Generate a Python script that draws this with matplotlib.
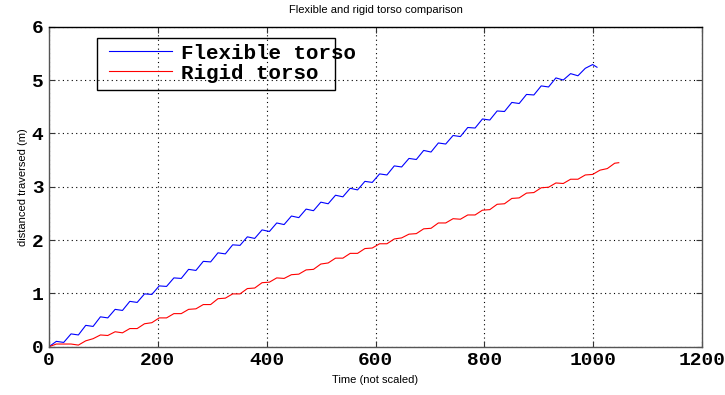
import numpy as np
import matplotlib.pyplot as plt
from matplotlib.patches import Rectangle

# samples taken every 13.5 time steps (about half a gait cycle)
step = 13.5

flexible = [0.00, 0.10, 0.08, 0.24, 0.22, 0.40, 0.38, 0.56, 0.54, 0.70,
            0.68, 0.85, 0.83, 0.99, 0.98, 1.14, 1.13, 1.29, 1.28, 1.45,
            1.43, 1.60, 1.59, 1.76, 1.74, 1.91, 1.90, 2.06, 2.03, 2.19,
            2.16, 2.32, 2.29, 2.45, 2.42, 2.58, 2.55, 2.71, 2.68, 2.84,
            2.81, 2.97, 2.94, 3.10, 3.08, 3.24, 3.22, 3.39, 3.37, 3.53,
            3.51, 3.68, 3.65, 3.82, 3.80, 3.96, 3.94, 4.11, 4.10, 4.27,
            4.25, 4.42, 4.41, 4.58, 4.56, 4.73, 4.72, 4.89, 4.87, 5.04,
            5.00, 5.12, 5.08, 5.22, 5.29]
flexible_end = (1007, 5.24)

rigid = [0.00, 0.05, 0.05, 0.05, 0.03, 0.11, 0.15, 0.22, 0.21, 0.28,
         0.26, 0.34, 0.34, 0.43, 0.45, 0.54, 0.54, 0.62, 0.62, 0.70,
         0.71, 0.79, 0.79, 0.90, 0.91, 0.99, 0.99, 1.09, 1.10, 1.20,
         1.21, 1.29, 1.28, 1.35, 1.36, 1.44, 1.45, 1.55, 1.57, 1.66,
         1.66, 1.75, 1.75, 1.84, 1.85, 1.93, 1.93, 2.02, 2.04, 2.11,
         2.12, 2.21, 2.22, 2.32, 2.32, 2.40, 2.39, 2.47, 2.47, 2.56,
         2.57, 2.67, 2.68, 2.78, 2.79, 2.88, 2.89, 2.98, 2.99, 3.07,
         3.06, 3.14, 3.14, 3.22, 3.23, 3.31, 3.34, 3.44]
rigid_end = (1047, 3.45)

labels = ["Flexible torso", "Rigid torso"]

t_flex = np.append(np.arange(len(flexible)) * step, flexible_end[0])
d_flex = np.append(flexible, flexible_end[1])
t_rigid = np.append(np.arange(len(rigid)) * step, rigid_end[0])
d_rigid = np.append(rigid, rigid_end[1])

fig = plt.figure(figsize=(7.25, 3.95), dpi=100)
ax = fig.add_axes([0.0676, 0.1223, 0.9007, 0.8101])

l1, = ax.plot(t_flex, d_flex, color="#0000ff", lw=0.8)
l2, = ax.plot(t_rigid, d_rigid, color="#ff0000", lw=0.8)

ax.set_xlim(0, 1200)
ax.set_ylim(0, 6)
ax.set_xticks(range(0, 1201, 200))
ax.set_yticks(range(0, 7))

tick_font = {"family": "Liberation Mono", "weight": "bold", "size": 14}
ax.set_xticklabels([str(v) for v in range(0, 1201, 200)], fontdict=tick_font)
ax.set_yticklabels([str(v) for v in range(0, 7)], fontdict=tick_font)
ax.tick_params(direction="in", length=4, width=0.8, top=True, right=True,
               color="#333333", pad=4)

ax.grid(True, color="black", linestyle=(0, (1, 3)), linewidth=0.8)
for s in ax.spines.values():
    s.set_color("#555555")
    s.set_linewidth(1.0)
ax.spines["top"].set_color("black")

label_font = {"family": "Liberation Sans", "size": 8}
ax.set_title("Flexible and rigid torso comparison", fontdict=label_font, pad=10)
ax.set_xlabel("Time (not scaled)", fontdict=label_font, labelpad=4)
ax.set_ylabel("distanced traversed (m)", fontdict=label_font, labelpad=3)

leg = ax.legend([l1, l2], labels, loc="upper left",
                bbox_to_anchor=(0.0796, 0.973), frameon=False,
                prop={"family": "Liberation Mono", "weight": "bold", "size": 15},
                handlelength=3.0, handletextpad=0.45, labelspacing=0.05,
                borderaxespad=0)
ax.add_patch(Rectangle((0.0735, 0.802), 0.3645, 0.163, transform=ax.transAxes,
                       fill=True, facecolor="none", edgecolor="black",
                       linewidth=1.0, zorder=5))

fig.savefig("out.png", dpi=100)
